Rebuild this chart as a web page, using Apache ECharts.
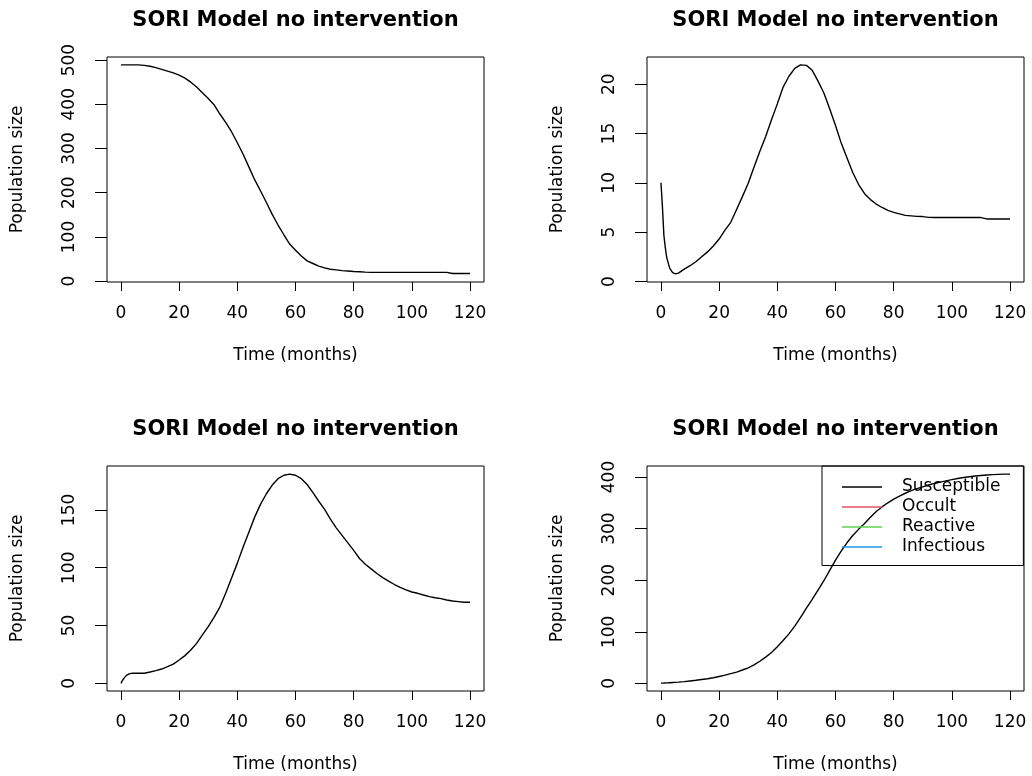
<!DOCTYPE html>
<html>
<head>
<meta charset="utf-8">
<script src="https://cdn.jsdelivr.net/npm/echarts@6/dist/echarts.min.js"></script>
<style>
  html, body { margin: 0; padding: 0; background: #fff; }
  #chart { width: 1032px; height: 776px; }
</style>
</head>
<body>
<div id="chart"></div>
<script>
// ---- data ----
const months = [0, 0.5, 1, 1.5, 2, 3, 4, 5, 6, 8,
  10, 12, 14, 16, 18, 20, 22, 24, 26, 28,
  30, 32, 34, 36, 38, 40, 42, 44, 46, 48,
  50, 52, 54, 56, 58, 60, 62, 64, 66, 68,
  70, 72, 74, 76, 78, 80, 82, 84, 86, 88,
  90, 92, 94, 96, 98, 100, 102, 104, 106, 108, 110, 112, 114, 116, 118, 120];

const panel1 = [489, 489, 489, 489, 489, 489, 489, 489, 489, 488,
  486, 483, 479, 475, 471, 466, 459, 450, 439, 426,
  413, 399, 378, 359, 338, 313, 287, 258, 229, 204,
  178, 151, 127, 105, 84, 70, 57, 46, 40, 34,
  30, 27, 25.5, 24, 23, 22, 21.5, 20.5, 20, 20,
  20, 20, 20, 20, 20, 20, 20, 20, 20, 20, 20, 20, 17.5, 17.5, 17.5, 17.5];

const panel2 = [10, 7.6, 4.7, 3.4, 2.4, 1.35, 0.9, 0.78, 0.85, 1.25,
  1.6, 2.0, 2.5, 3.0, 3.6, 4.3, 5.2, 6.0, 7.3, 8.6,
  9.95, 11.6, 13.2, 14.7, 16.4, 18.0, 19.7, 20.8, 21.6, 21.95,
  21.9, 21.4, 20.3, 19.1, 17.5, 15.8, 14.0, 12.5, 11.0, 9.8,
  8.9, 8.3, 7.85, 7.5, 7.2, 7.0, 6.85, 6.7, 6.65, 6.6,
  6.58, 6.5, 6.48, 6.48, 6.48, 6.48, 6.48, 6.48, 6.48, 6.48, 6.48, 6.34, 6.34, 6.34, 6.34, 6.34];

const panel3 = [0, 2.5, 4.3, 6, 7.2, 8.4, 8.7, 8.7, 8.7, 8.8,
  9.8, 11, 12.4, 14.4, 16.7, 20.2, 24, 28.8, 34.6, 42,
  49, 57, 66, 78, 91, 104, 118, 131, 144, 155,
  164, 171.5, 177, 180, 181, 180, 177, 172, 165, 157.5,
  150.5, 142, 134.5, 128, 121.5, 115, 108, 103, 99, 95,
  91.5, 88.5, 85.5, 83, 80.8, 79, 77.9, 76.4, 75, 74.1, 73.3, 72.1, 71.2, 70.7, 70.1, 70.1];

const panel4 = [0.6, 0.6, 0.7, 0.8, 1, 1.4, 1.8, 2.1, 2.5, 3.5,
  4.8, 6, 7.5, 9, 11, 13.5, 16, 19, 22, 26,
  30, 36, 43, 51, 60, 71, 83, 96, 111, 128,
  146, 163, 181, 199, 219, 239, 257, 273, 287, 299,
  310, 322, 333, 342, 350, 357, 363, 368.5, 373.5, 377.5,
  381, 384.5, 387.5, 390, 392.5, 395, 397, 399, 400.5, 402, 403, 404, 404.5, 405, 405.5, 405.5];

const xTicks = [0, 20, 40, 60, 80, 100, 120];
const yTicks1 = [0, 100, 200, 300, 400, 500];
const yTicks2 = [0, 5, 10, 15, 20];
const yTicks3 = [0, 50, 100, 150];
const yTicks4 = [0, 100, 200, 300, 400];

const titleText = 'SORI Model no intervention';
const xName = 'Time (months)';
const yName = 'Population size';
const legendNames = ['Susceptible', 'Occult', 'Reactive', 'Infectious'];
const legendColors = ['#000000', '#DF536B', '#61D04F', '#2297E6'];

// ---- chart ----
const FONT = 'DejaVu Sans';
const panels = [
  { left: 107, top: 57, values: panel1, yTicks: yTicks1, ymin: -1.8, ymax: 506.9 },
  { left: 647, top: 57, values: panel2, yTicks: yTicks2, ymin: -0.05, ymax: 22.75 },
  { left: 107, top: 466, values: panel3, yTicks: yTicks3, ymin: -6.6, ymax: 188 },
  { left: 647, top: 466, values: panel4, yTicks: yTicks4, ymin: -14.7, ymax: 421.3 }
];
const W = 377, H = 225;

const grids = [], xAxes = [], yAxes = [], titles = [], series = [];
panels.forEach((p, i) => {
  grids.push({ left: p.left, top: p.top, width: W, height: H, show: true,
    borderColor: '#000', borderWidth: 1, backgroundColor: 'transparent' });
  xAxes.push({
    gridIndex: i, type: 'value', min: -4.8, max: 124.8,
    axisLine: { show: false, onZero: false }, splitLine: { show: false },
    axisTick: { show: true, inside: false, length: 9, lineStyle: { color: '#000', width: 1 }, customValues: xTicks },
    axisLabel: { customValues: xTicks, margin: 23, fontFamily: FONT, fontSize: 17, color: '#000' },
    name: xName, nameLocation: 'middle', nameGap: 65,
    nameTextStyle: { fontFamily: FONT, fontSize: 17, color: '#000' }
  });
  yAxes.push({
    gridIndex: i, type: 'value', min: p.ymin, max: p.ymax,
    axisLine: { show: false, onZero: false }, splitLine: { show: false },
    axisTick: { show: true, inside: false, length: 12, lineStyle: { color: '#000', width: 1 }, customValues: p.yTicks },
    axisLabel: { customValues: p.yTicks, rotate: 90, margin: 29, fontFamily: FONT, fontSize: 17, color: '#000' },
    name: yName, nameLocation: 'middle', nameGap: 81, nameRotate: 90,
    nameTextStyle: { fontFamily: FONT, fontSize: 17, color: '#000' }
  });
  titles.push({
    text: titleText, left: p.left + W / 2, top: i < 2 ? 10 : 419.5, textAlign: 'center', padding: 0,
    textStyle: { fontFamily: FONT, fontWeight: 'bold', fontSize: 21, lineHeight: 21, color: '#000' }
  });
  series.push({
    name: 'Panel ' + (i + 1), type: 'line', xAxisIndex: i, yAxisIndex: i,
    data: months.map((m, k) => [m, p.values[k]]),
    showSymbol: false, symbol: 'none', smooth: false, animation: false,
    lineStyle: { color: '#000', width: 1.4 }, itemStyle: { color: '#000' }
  });
});
legendNames.forEach((n, k) => {
  series.push({
    name: n, type: 'line', xAxisIndex: 3, yAxisIndex: 3, data: [],
    symbol: 'none', showSymbol: false, animation: false,
    lineStyle: { color: legendColors[k], width: 1.4 }, itemStyle: { color: legendColors[k] }
  });
});

const chart = echarts.init(document.getElementById('chart'));
chart.setOption({
  backgroundColor: '#fff',
  animation: false,
  title: titles,
  grid: grids,
  xAxis: xAxes,
  yAxis: yAxes,
  legend: {
    data: legendNames, orient: 'vertical', left: 822, top: 466,
    icon: 'rect', itemWidth: 40, itemHeight: 1.6, itemGap: 3,
    borderColor: '#000', borderWidth: 1, borderRadius: 0,
    padding: [12.5, 23, 10, 20], selectedMode: false,
    textStyle: { fontFamily: FONT, fontSize: 17, lineHeight: 17, color: '#000', padding: [0, 0, 0, 15] }
  },
  series: series
});
</script>
</body>
</html>
